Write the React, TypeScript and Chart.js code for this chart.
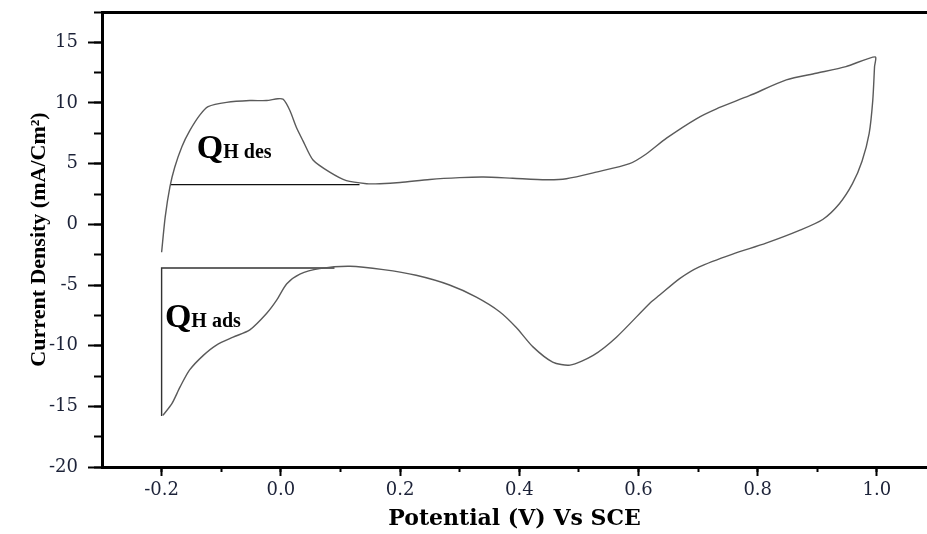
import React, { useEffect, useRef } from 'react';
import { Chart, registerables } from 'chart.js';

Chart.register(...registerables);

// Cyclic voltammogram: anodic sweep (-0.2 -> 1.0 V) then cathodic sweep back
const potentialV = [
  -0.2, -0.194, -0.186, -0.178, -0.166, -0.153, -0.136, -0.122, -0.091, -0.052,
  -0.024, -0.005, 0.004, 0.015, 0.026, 0.037, 0.054, 0.082, 0.11, 0.144,
  0.166, 0.2, 0.25, 0.3, 0.34, 0.389, 0.445, 0.479, 0.529, 0.585,
  0.613, 0.647, 0.697, 0.73, 0.786, 0.848, 0.898, 0.948, 0.997,
  0.996, 0.993, 0.987, 0.975, 0.959, 0.937, 0.909, 0.87, 0.814, 0.758,
  0.702, 0.669, 0.635, 0.619, 0.563, 0.524, 0.485, 0.456, 0.423, 0.395,
  0.367, 0.328, 0.283, 0.227, 0.172, 0.116, 0.065, 0.032, 0.01, -0.007,
  -0.024, -0.052, -0.08, -0.108, -0.13, -0.153, -0.169, -0.183, -0.198,
];
const currentDensity = [
  -2.3, 0.6, 3.1, 4.7, 6.4, 7.7, 9.0, 9.7, 10.05, 10.2,
  10.2, 10.35, 10.3, 9.4, 8.0, 6.9, 5.3, 4.3, 3.6, 3.35,
  3.35, 3.45, 3.7, 3.85, 3.9, 3.8, 3.68, 3.76, 4.3, 5.0,
  5.8, 7.1, 8.7, 9.5, 10.6, 11.9, 12.45, 13.0, 13.8,
  13.0, 10.2, 7.5, 5.2, 3.35, 1.7, 0.4, -0.5, -1.55, -2.45,
  -3.5, -4.47, -5.85, -6.5, -9.3, -10.8, -11.6, -11.35, -10.1, -8.5,
  -7.2, -6.0, -5.0, -4.2, -3.73, -3.46, -3.65, -4.1, -4.9, -6.25,
  -7.35, -8.7, -9.3, -9.95, -10.8, -12.0, -13.4, -14.8, -15.75,
];

// Hydrogen desorption baseline
const desBaselineV = [-0.185, 0.132];
const desBaselineJ = [3.27, 3.27];
// Hydrogen adsorption boundary
const adsBoundaryV = [-0.2, -0.2, 0.09];
const adsBoundaryJ = [-15.8, -3.6, -3.6];

// Region labels
const labelMain = ['Q', 'Q'];
const labelSub = ['H des', 'H ads'];
const labelV = [-0.141, -0.1945];
const labelJ = [5.44, -8.48];

const xMin = -0.3;
const xMax = 1.084;
const yMin = -20;
const yMax = 17.5;

const toPoints = (xs: number[], ys: number[]) => xs.map((x, i) => ({ x, y: ys[i] }));

const tickColor = '#1c2238';

const qLabelsPlugin = {
  id: 'qLabels',
  afterDatasetsDraw(chart: any) {
    const { ctx, scales } = chart;
    const xs = scales.x;
    const ys = scales.y;
    ctx.save();
    ctx.fillStyle = '#000';
    ctx.textAlign = 'left';
    ctx.textBaseline = 'alphabetic';
    for (let i = 0; i < labelMain.length; i++) {
      const px = xs.getPixelForValue(labelV[i]);
      const py = ys.getPixelForValue(labelJ[i]);
      ctx.font = 'bold 34px "Liberation Serif"';
      ctx.fillText(labelMain[i], px, py);
      const w = ctx.measureText(labelMain[i]).width;
      ctx.font = 'bold 20px "Liberation Serif"';
      ctx.fillText(labelSub[i], px + w, py);
    }
    ctx.restore();
  },
};

export default function App() {
  const canvasRef = useRef<HTMLCanvasElement | null>(null);

  useEffect(() => {
    document.body.style.margin = '0';
    const canvas = canvasRef.current;
    if (!canvas) return;
    const chart = new Chart(canvas, {
      type: 'scatter',
      data: {
        datasets: [
          {
            data: toPoints(potentialV, currentDensity),
            showLine: true,
            borderColor: '#5a5a5a',
            borderWidth: 1.4,
            pointRadius: 0,
            tension: 0.25,
            xAxisID: 'x',
            yAxisID: 'y',
          },
          {
            data: toPoints(desBaselineV, desBaselineJ),
            showLine: true,
            borderColor: '#111',
            borderWidth: 1.2,
            pointRadius: 0,
            tension: 0,
            xAxisID: 'x',
            yAxisID: 'y',
          },
          {
            data: toPoints(adsBoundaryV, adsBoundaryJ),
            showLine: true,
            borderColor: '#333',
            borderWidth: 1.4,
            pointRadius: 0,
            tension: 0,
            xAxisID: 'x',
            yAxisID: 'y',
          },
        ],
      },
      options: {
        animation: false,
        responsive: true,
        maintainAspectRatio: false,
        layout: { padding: 0 },
        plugins: {
          legend: { display: false },
          tooltip: { enabled: false },
        },
        scales: {
          x: {
            type: 'linear',
            axis: 'x',
            position: 'bottom',
            weight: 1,
            min: xMin,
            max: xMax,
            ticks: {
              stepSize: 0.2,
              includeBounds: false,
              autoSkip: false,
              maxRotation: 0,
              padding: 4,
              color: tickColor,
              font: { family: '"DejaVu Serif"', size: 18 },
              callback: (v: any) => (Math.round(Number(v) * 10) / 10).toFixed(1),
            },
            grid: { drawOnChartArea: false, tickLength: 9, tickWidth: 2, tickColor: '#000' },
            border: { display: true, color: '#000', width: 3 },
            title: {
              display: true,
              text: 'Potential (V) Vs SCE',
              color: '#000',
              font: { family: '"DejaVu Serif"', size: 22, weight: 'bold' },
              padding: { top: 0, bottom: 2 },
            },
            afterFit: (s: any) => {
              s.height = 67;
              s.paddingLeft = 0;
              s.paddingRight = 0;
            },
          },
          xMinor: {
            type: 'linear',
            axis: 'x',
            position: 'bottom',
            weight: 0,
            min: xMin,
            max: xMax,
            ticks: { display: false, stepSize: 0.1, includeBounds: false },
            grid: { drawOnChartArea: false, tickLength: 5, tickWidth: 2, tickColor: '#000' },
            border: { display: false },
            afterFit: (s: any) => {
              s.height = 0;
              s.paddingLeft = 0;
              s.paddingRight = 0;
            },
          },
          xTop: {
            type: 'linear',
            axis: 'x',
            position: 'top',
            min: xMin,
            max: xMax,
            ticks: { display: false },
            grid: { display: false },
            border: { display: true, color: '#000', width: 3 },
            afterFit: (s: any) => {
              s.height = 12;
              s.paddingLeft = 0;
              s.paddingRight = 0;
            },
          },
          y: {
            type: 'linear',
            axis: 'y',
            position: 'left',
            weight: 1,
            min: yMin,
            max: yMax,
            ticks: {
              stepSize: 5,
              includeBounds: false,
              padding: 10,
              color: tickColor,
              font: { family: '"DejaVu Serif"', size: 18 },
              callback: (v: any) => String(Math.round(Number(v))),
            },
            grid: { drawOnChartArea: false, tickLength: 14, tickWidth: 2, tickColor: '#000' },
            border: { display: true, color: '#000', width: 3 },
            title: {
              display: true,
              text: 'Current Density (mA/Cm²)',
              color: '#000',
              font: { family: '"Liberation Serif"', size: 22, weight: 'bold' },
              padding: { top: 26, bottom: 0 },
            },
            afterFit: (s: any) => {
              s.width = 102;
              s.paddingTop = 0;
              s.paddingBottom = 0;
            },
          },
          yMinor: {
            type: 'linear',
            axis: 'y',
            position: 'left',
            weight: 0,
            min: yMin,
            max: yMax,
            ticks: { display: false, stepSize: 2.5, includeBounds: false },
            grid: { drawOnChartArea: false, tickLength: 8, tickWidth: 2, tickColor: '#000' },
            border: { display: false },
            afterFit: (s: any) => {
              s.width = 0;
              s.paddingTop = 0;
              s.paddingBottom = 0;
            },
          },
        },
      } as any,
      plugins: [qLabelsPlugin],
    });
    return () => chart.destroy();
  }, []);

  return (
    <div style={{ position: 'relative', width: '927px', height: '534px' }}>
      <canvas ref={canvasRef} />
    </div>
  );
}
